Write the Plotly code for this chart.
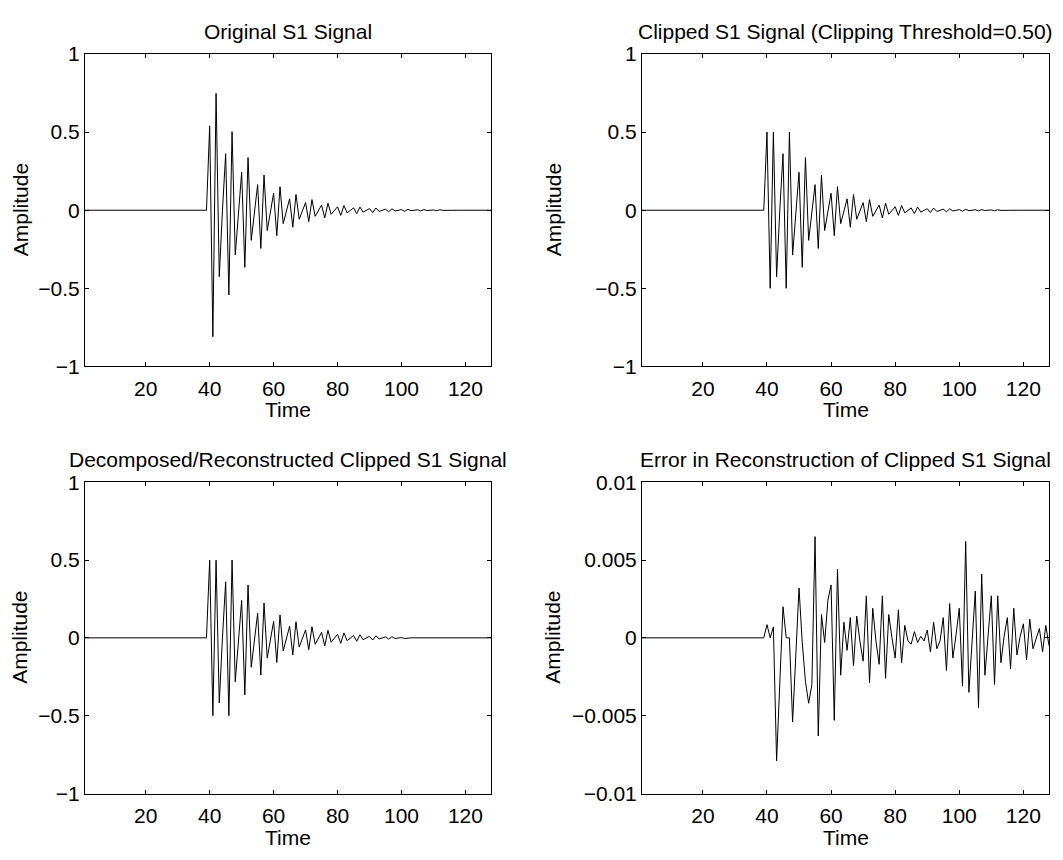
import plotly.graph_objects as go

# time axis, one sample per step
t = list(range(1, 129))

# original S1 signal
orig = [
    0, 0, 0, 0, 0, 0, 0, 0, 0, 0, 0, 0, 0,
    0, 0, 0, 0, 0, 0, 0, 0, 0, 0, 0, 0, 0,
    0, 0, 0, 0, 0, 0, 0, 0, 0, 0, 0, 0, 0,
    0.540, -0.810, 0.748, -0.426, 0.000,
    0.362, -0.543, 0.503, -0.287, 0.000,
    0.243, -0.366, 0.337, -0.193, 0.000,
    0.164, -0.245, 0.225, -0.130, 0.000,
    0.109, -0.163, 0.151, -0.086, 0.000,
    0.073, -0.109, 0.101, -0.058, 0.000,
    0.049, -0.073, 0.068, -0.039, 0.000,
    0.033, -0.049, 0.045, -0.026, 0.000,
    0.022, -0.033, 0.030, -0.017, 0.000,
    0.015, -0.022, 0.020, -0.012, 0.000,
    0.010, -0.015, 0.014, -0.008, 0.000,
    0.007, -0.010, 0.009, -0.005, 0.000,
    0.004, -0.007, 0.006, -0.003, 0.000,
    0.003, -0.004, 0.004, -0.002, 0.000,
    0.002, -0.003, 0.003, -0.001, 0.000,
    0, 0, 0, 0, 0, 0, 0, 0, 0, 0, 0, 0, 0, 0,
]

# clipped at +/-0.50 (top-right panel)
clipped = [
    0, 0, 0, 0, 0, 0, 0, 0, 0, 0, 0, 0, 0,
    0, 0, 0, 0, 0, 0, 0, 0, 0, 0, 0, 0, 0,
    0, 0, 0, 0, 0, 0, 0, 0, 0, 0, 0, 0, 0,
    0.500, -0.500, 0.500, -0.426, 0.000,
    0.362, -0.500, 0.500, -0.287, 0.000,
    0.243, -0.366, 0.337, -0.193, 0.000,
    0.164, -0.245, 0.225, -0.130, 0.000,
    0.109, -0.163, 0.151, -0.086, 0.000,
    0.073, -0.109, 0.101, -0.058, 0.000,
    0.049, -0.073, 0.068, -0.039, 0.000,
    0.033, -0.049, 0.045, -0.026, 0.000,
    0.022, -0.033, 0.030, -0.017, 0.000,
    0.015, -0.022, 0.020, -0.012, 0.000,
    0.010, -0.015, 0.014, -0.008, 0.000,
    0.007, -0.010, 0.009, -0.005, 0.000,
    0.004, -0.007, 0.006, -0.003, 0.000,
    0.003, -0.004, 0.004, -0.002, 0.000,
    0.002, -0.003, 0.003, -0.001, 0.000,
    0, 0, 0, 0, 0, 0, 0, 0, 0, 0, 0, 0, 0, 0,
]

# decomposed / reconstructed clipped signal (bottom-left panel)
recon = [
    0, 0, 0, 0, 0, 0, 0, 0, 0, 0, 0, 0, 0,
    0, 0, 0, 0, 0, 0, 0, 0, 0, 0, 0, 0, 0,
    0, 0, 0, 0, 0, 0, 0, 0, 0, 0, 0, 0, 0,
    0.499, -0.500, 0.499, -0.418, 0.003,
    0.360, -0.500, 0.500, -0.282, 0.001,
    0.240, -0.366, 0.340, -0.189, 0.003,
    0.158, -0.239, 0.224, -0.130, -0.002,
    0.106, -0.158, 0.147, -0.084, -0.001,
    0.074, -0.110, 0.103, -0.059, 0.000,
    0.051, -0.076, 0.071, -0.041, 0.000,
    0.035, -0.052, 0.048, -0.028, 0.000,
    0.023, -0.035, 0.032, -0.018, 0.000,
    0.015, -0.022, 0.020, -0.012, 0.000,
    0.010, -0.014, 0.013, -0.007, 0.000,
    0.006, -0.008, 0.007, -0.004, 0.000,
    0.002, -0.004, 0.000, 0.000, 0.000,
    0.000, 0.000, 0.000, 0.000, 0.000,
    -0.001, 0.000, 0.000, 0.001, 0.000,
    0, 0, 0, 0, 0, 0, 0, 0, 0, 0, 0, 0, 0, 0,
]

# reconstruction error (bottom-right panel)
err = [
    0, 0, 0, 0, 0, 0, 0, 0, 0, 0, 0, 0, 0,
    0, 0, 0, 0, 0, 0, 0, 0, 0, 0, 0, 0, 0,
    0, 0, 0, 0, 0, 0, 0, 0, 0, 0, 0, 0, 0,
    0.00085, 0.0000, 0.0007, -0.0079, -0.0029,
    0.0020, 0.0000, 0.0000, -0.0054, -0.0010,
    0.0032, -0.0003, -0.0028, -0.0042, -0.0030,
    0.0065, -0.0063, 0.0015, -0.0003, 0.0024,
    0.0034, -0.0053, 0.0044, -0.0024, 0.0010,
    -0.0008, 0.0013, -0.0018, 0.0014, -0.0002,
    -0.0015, 0.0027, -0.0029, 0.0019, -0.0002,
    -0.0017, 0.0027, -0.0026, 0.0015, 0.0000,
    -0.0013, 0.0018, -0.0016, 0.0008, -0.0002,
    -0.0004, 0.0004, -0.0003, 0.0001, -0.0002,
    0.0005, -0.0009, 0.0010, -0.0007, -0.0002,
    0.0013, -0.0021, 0.0022, -0.0013, 0.0002,
    0.0019, -0.0031, 0.0062, -0.0035, -0.0002,
    0.0030, -0.0045, 0.0041, -0.0024, 0.0002,
    0.0027, -0.0030, 0.0027, -0.0016, 0.0001,
    0.0013, -0.0020, 0.0019, -0.0011, 0.0001,
    0.0009, -0.0014, 0.0012, -0.0007, 0.0000,
    0.0006, -0.0009, 0.0008, -0.0005,
]

titles = [
    "Original S1 Signal",
    "Clipped S1 Signal (Clipping Threshold=0.50)",
    "Decomposed/Reconstructed Clipped S1 Signal",
    "Error in Reconstruction of Clipped S1 Signal",
]
x_ticks = [20, 40, 60, 80, 100, 120]
amp_ticks = [-1, -0.5, 0, 0.5, 1]
amp_labels = ["\u22121", "\u22120.5", "0", "0.5", "1"]
err_ticks = [-0.01, -0.005, 0, 0.005, 0.01]
err_labels = ["\u22120.01", "\u22120.005", "0", "0.005", "0.01"]

# the page body keeps its default 8px margin, so the figure is 8px smaller
# than the window and all page pixel positions are shifted by 8
OFF = 8
W, H = 1063 - OFF, 860 - OFF
FONT = "Liberation Sans, Arial, Helvetica, sans-serif"
FS = 21

# axes boxes in page pixels: (left, right, top, bottom)
boxes = [(85, 491, 43, 364), (642, 1049, 43, 364),
         (85, 491, 483, 803), (642, 1049, 483, 803)]

series = [orig, clipped, recon, err]

fig = go.Figure()
layout = dict(
    width=W, height=H,
    margin=dict(l=0, r=0, t=0, b=0),
    paper_bgcolor="white", plot_bgcolor="white",
    showlegend=False,
    font=dict(family=FONT, size=FS, color="black"),
    annotations=[],
)

for i, (ys, box, title) in enumerate(zip(series, boxes, titles)):
    n = i + 1
    xa = "x" if n == 1 else f"x{n}"
    ya = "y" if n == 1 else f"y{n}"
    fig.add_trace(go.Scatter(x=t, y=ys, mode="lines", xaxis=xa, yaxis=ya,
                             line=dict(color="black", width=1)))
    l, r, tp, b = [v - OFF for v in box]
    common = dict(showline=True, linecolor="black", linewidth=1, mirror="ticks",
                  ticks="inside", ticklen=4, tickcolor="black", tickwidth=1,
                  showgrid=False, zeroline=False,
                  tickfont=dict(family=FONT, size=FS, color="black"))
    layout["xaxis" if n == 1 else f"xaxis{n}"] = dict(
        common, domain=[l / W, r / W], anchor=ya, range=[1, 128],
        tickvals=x_ticks, ticklabelstandoff=3)
    if n == 4:
        yt, yl, yr = err_ticks, err_labels, [-0.01, 0.01]
    else:
        yt, yl, yr = amp_ticks, amp_labels, [-1, 1]
    layout["yaxis" if n == 1 else f"yaxis{n}"] = dict(
        common, domain=[1 - b / H, 1 - tp / H], anchor=xa, range=yr,
        tickvals=yt, ticktext=yl, ticklabelstandoff=0)

    dx = f"{xa} domain"
    dy = f"{ya} domain"
    layout["annotations"].append(dict(
        text=title, xref=dx, yref=dy, x=0.5, y=1, xanchor="center",
        yanchor="bottom", yshift=9.5, showarrow=False,
        font=dict(family=FONT, size=FS, color="black")))
    layout["annotations"].append(dict(
        text="Time", xref=dx, yref=dy, x=0.5, y=0, xanchor="center",
        yanchor="top", yshift=-30, showarrow=False,
        font=dict(family=FONT, size=FS, color="black")))
    layout["annotations"].append(dict(
        text="Amplitude", xref=dx, yref=dy, x=0, y=0.5, xanchor="center",
        yanchor="middle", xshift=-65 if n in (1, 3) else -89, textangle=-90,
        showarrow=False, font=dict(family=FONT, size=FS, color="black")))

fig.update_layout(**layout)
fig.write_html("out.html")
